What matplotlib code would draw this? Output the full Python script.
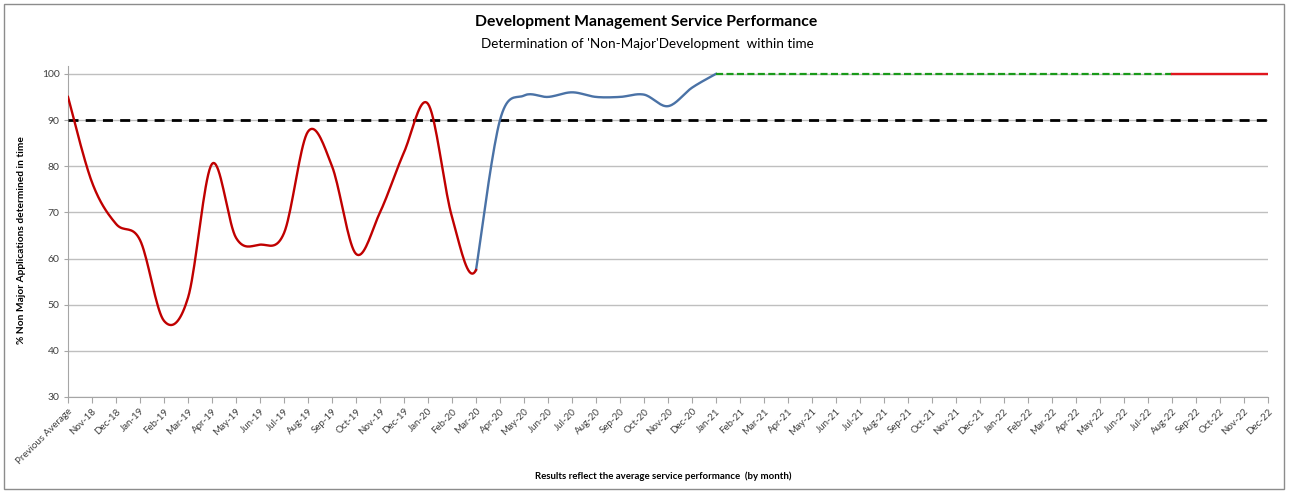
import matplotlib
matplotlib.use("Agg")
import matplotlib.pyplot as plt
from matplotlib.patches import Rectangle
import numpy as np

plt.rcParams['font.family'] = ['Lato', 'DejaVu Sans']

# category labels
months = ['Previous Average', 'Nov-18', 'Dec-18']
for yr in range(19, 23):
    for m in ['Jan', 'Feb', 'Mar', 'Apr', 'May', 'Jun',
              'Jul', 'Aug', 'Sep', 'Oct', 'Nov', 'Dec']:
        months.append('%s-%d' % (m, yr))

# actual performance, Previous Average .. Mar-20
actual_early = [95, 76.5, 67.5, 64, 46.5, 51.5, 80.5, 64.5, 63, 65.5,
                87.5, 80, 61, 70, 83, 93.5, 69, 57.5]
# actual performance, Mar-20 .. Jan-21
actual_late = [57.5, 90, 95.3, 95, 96, 95, 95, 95.5, 93, 97, 100]
# forecast, Jan-21 .. Aug-22
forecast = [100] * 20
# forecast, Aug-22 .. Dec-22
forecast_end = [100] * 5
target = 90

start_early = 0
start_late = 17
start_fc = 27
start_fc_end = 46


def smooth(xs, ys, nxt=None, n=20):
    # bezier smoothing similar to excel's "smoothed line"
    pts = np.column_stack([np.asarray(xs, float), np.asarray(ys, float)])
    after = pts[-1] if nxt is None else np.array(nxt, float)
    out = [pts[0]]
    for i in range(len(pts) - 1):
        p0 = pts[max(i - 1, 0)]
        p1 = pts[i]
        p2 = pts[i + 1]
        p3 = pts[i + 2] if i + 2 < len(pts) else after
        c1 = p1 + (p2 - p0) / 6.0
        c2 = p2 - (p3 - p1) / 6.0
        t = np.linspace(0, 1, n)[1:, None]
        seg = ((1 - t) ** 3) * p1 + 3 * ((1 - t) ** 2) * t * c1 \
            + 3 * (1 - t) * t ** 2 * c2 + t ** 3 * p2
        out.extend(seg)
    out = np.array(out)
    return out[:, 0], out[:, 1]


fig = plt.figure(figsize=(12.89, 4.93), dpi=100)
ax = fig.add_axes([68 / 1289, 96 / 493, 1200 / 1289, 331 / 493])

for v in range(30, 101, 10):
    ax.axhline(v, color='#BFBFBF', lw=1, zorder=1)

x = np.arange(len(months))
ax.plot(x, [target] * len(months), color='black', lw=2.0,
        dashes=(3.6, 2.6), zorder=3)

sx, sy = smooth(x[start_late:start_late + len(actual_late)], actual_late)
ax.plot(sx, sy, color='#4A72A6', lw=1.7, zorder=4)
sx, sy = smooth(x[start_early:start_early + len(actual_early)], actual_early,
                nxt=(start_late + 1, actual_late[1]))
ax.plot(sx, sy, color='#C00000', lw=1.7, zorder=5)
sx, sy = smooth(x[start_fc:start_fc + len(forecast)], forecast)
ax.plot(sx, sy, color='#1A9A1A', lw=1.6, dashes=(3.2, 1.5), zorder=4)
sx, sy = smooth(x[start_fc_end:start_fc_end + len(forecast_end)], forecast_end)
ax.plot(sx, sy, color='#E0161E', lw=1.7, zorder=4)

ax.set_xlim(0, len(months) - 1)
ax.set_ylim(30, 101.7)
ax.set_yticks(range(30, 101, 10))
ax.set_xticks(x)
ax.set_xticklabels(months, rotation=45, ha='right', rotation_mode='anchor',
                   fontsize=7, color='#404040')
ax.tick_params(axis='y', labelsize=7.5, length=3, color='#A6A6A6',
               labelcolor='#404040', pad=3)
ax.tick_params(axis='x', length=4, color='#A6A6A6', pad=3)
for s in ['top', 'right']:
    ax.spines[s].set_visible(False)
for s in ['left', 'bottom']:
    ax.spines[s].set_color('#A6A6A6')

fig.text(646 / 1289, 1 - 22 / 493,
         'Development Management Service Performance',
         ha='center', va='center', fontsize=11.3, fontweight='bold')
fig.text(647 / 1289, 1 - 44 / 493,
         "Determination of 'Non-Major'Development  within time",
         ha='center', va='center', fontsize=9.7)
fig.text(663 / 1289, 1 - 476 / 493,
         'Results reflect the average service performance  (by month)',
         ha='center', va='center', fontsize=6.9, fontweight='bold')
fig.text(22 / 1289, 1 - 240 / 493,
         '% Non Major Applications determined in time',
         ha='center', va='center', rotation=90, fontsize=7.3,
         fontweight='bold')

fig.patches.append(Rectangle((4 / 1289, 4 / 493), 1280 / 1289, 485 / 493,
                             transform=fig.transFigure, fill=False,
                             edgecolor='#8C8C8C', lw=1))

fig.savefig('out.png', dpi=100)
